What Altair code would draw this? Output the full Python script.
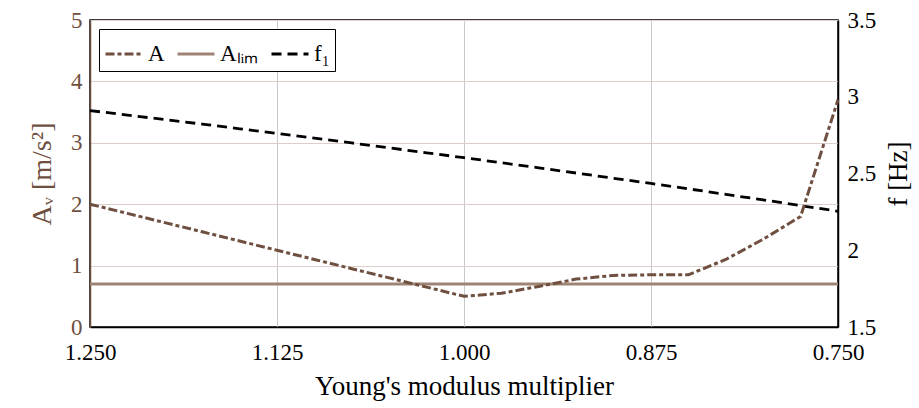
import altair as alt
import pandas as pd

# Young's modulus multiplier
E = [1.25, 1.225, 1.2, 1.175, 1.15, 1.125, 1.1, 1.075, 1.05, 1.025, 1.0,
     0.975, 0.95, 0.925, 0.9, 0.875, 0.85, 0.825, 0.8, 0.775, 0.75]
# vertical acceleration A_v [m/s^2]
A = [2.00, 1.85, 1.70, 1.55, 1.40, 1.25, 1.10, 0.95, 0.80, 0.65, 0.50,
     0.55, 0.66, 0.78, 0.84, 0.85, 0.85, 1.10, 1.43, 1.80, 3.70]
# comfort limit
A_LIM = [0.7] * len(E)
# first natural frequency f1 [Hz]
F1 = [2.910, 2.881, 2.851, 2.822, 2.791, 2.761, 2.730, 2.699, 2.667, 2.635, 2.603,
      2.570, 2.537, 2.503, 2.469, 2.435, 2.400, 2.364, 2.328, 2.291, 2.254]

SERIES = ["A", "Aₗᵢₘ", "f₁"]
COLORS = ["#6f4f40", "#9d8474", "#000000"]
DASHES = [[9, 3, 4, 3], [1, 0], [10, 6]]

rows = []
for e, a, al, f in zip(E, A, A_LIM, F1):
    rows.append({"E": e, "series": SERIES[0], "v": a})
    rows.append({"E": e, "series": SERIES[1], "v": al})
    rows.append({"E": e, "series": SERIES[2], "v": f})
df = pd.DataFrame(rows)

FONT = "Liberation Serif"
BROWN = "#6f4f40"
LBL = 23
TTL = 27

x = alt.X("E:Q", scale=alt.Scale(domain=[0.75, 1.25], reverse=True, nice=False, zero=False),
          axis=alt.Axis(title="Young's modulus multiplier", values=[1.25, 1.125, 1.0, 0.875, 0.75],
                        format=".3f", grid=True, gridColor="#c9c9c9", ticks=False, labelFlush=False,
                        domainColor="black", domainWidth=1.5, labelPadding=14,
                        labelFont=FONT, titleFont=FONT, titleFontWeight="normal",
                        labelFontSize=LBL, titleFontSize=TTL, titlePadding=9))

color = alt.Color("series:N", scale=alt.Scale(domain=SERIES, range=COLORS),
                  legend=alt.Legend(orient="none", legendX=9, legendY=9, direction="horizontal",
                                    columns=3, title=None, symbolType="stroke", symbolSize=1369,
                                    symbolStrokeWidth=3, labelFontSize=23, labelFont=FONT,
                                    strokeColor="black", fillColor="white", padding=5,
                                    columnPadding=6, labelOffset=4, labelColor="black"))
dash = alt.StrokeDash("series:N", scale=alt.Scale(domain=SERIES, range=DASHES), legend=None)

left_scale = alt.Scale(domain=[0, 5], nice=False, zero=False)

lim_layer = alt.Chart(df).transform_filter(alt.datum.series == SERIES[1]).mark_line(strokeWidth=2.8).encode(
    x=x,
    y=alt.Y("v:Q", scale=left_scale,
            axis=alt.Axis(title="Aᵥ [m/s²]", orient="left", values=[0, 1, 2, 3, 4, 5], format="d",
                          grid=True, gridColor="#dccfc9", ticks=False, domainColor=BROWN,
                          domainWidth=1.5, labelColor=BROWN, titleColor=BROWN,
                          labelFont=FONT, titleFont=FONT, titleFontWeight="normal",
                          labelFontSize=LBL, titleFontSize=28, labelPadding=8, titlePadding=14)),
    color=color, strokeDash=dash,
)

f_layer = alt.Chart(df).transform_filter(alt.datum.series == SERIES[2]).mark_line(strokeWidth=2.8).encode(
    x=x,
    y=alt.Y("v:Q", scale=alt.Scale(domain=[1.5, 3.5], nice=False, zero=False),
            axis=alt.Axis(title="f [Hz]", orient="right", values=[1.5, 2, 2.5, 3, 3.5], format="~g",
                          grid=False, ticks=False, domainColor="black", domainWidth=1.5,
                          labelColor="black", titleColor="black",
                          labelFont=FONT, titleFont=FONT, titleFontWeight="normal",
                          labelFontSize=LBL, titleFontSize=TTL, labelPadding=9, titlePadding=10,
                          titleAngle=270, titleBaseline="top")),
    color=color, strokeDash=dash,
)

a_layer = alt.Chart(df).transform_filter(alt.datum.series == SERIES[0]).mark_line(strokeWidth=3).encode(
    x=x,
    y=alt.Y("v:Q", scale=left_scale, axis=None),
    color=color, strokeDash=dash,
)

chart = alt.layer(lim_layer, f_layer, a_layer).resolve_scale(y="independent").properties(
    width=748, height=307,
    padding={"left": 90, "top": 20, "right": 81, "bottom": 81},
    autosize=alt.AutoSizeParams(type="none"),
).configure_view(stroke="black", strokeWidth=1.5)

chart.save("out.html", embed_options={"renderer": "svg", "actions": False})
